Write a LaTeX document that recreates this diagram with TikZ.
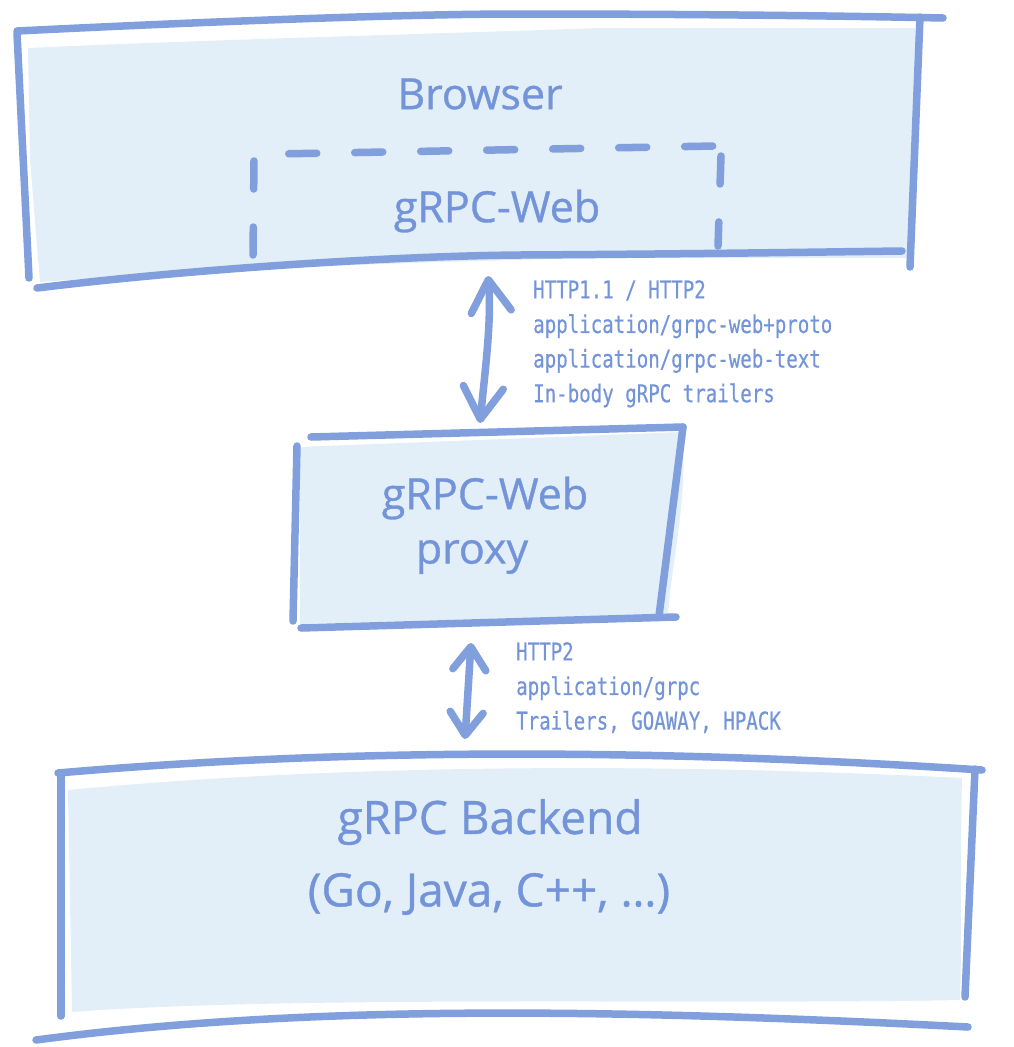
\documentclass[tikz,border=0pt]{standalone}
\usepackage{fontspec}
\setmainfont{Open Sans}[FakeBold=0.8]
\newfontfamily\lblfont[FakeStretch=0.78,FakeBold=0.5]{DejaVu Sans Mono}
\usetikzlibrary{arrows.meta}
\definecolor{strokeblue}{HTML}{809FDC}
\definecolor{fillblue}{HTML}{E2EEF8}
\definecolor{textblue}{HTML}{7394D8}
\tikzset{
  edge/.style={draw=strokeblue, line width=7.5pt, line cap=round, line join=round},
  dashedge/.style={draw=strokeblue, line width=7.5pt, line cap=round, dash pattern=on 28pt off 38pt},
  boxfill/.style={fill=fillblue, draw=none},
  bigtext/.style={text=textblue, font=\fontsize{43}{50}\selectfont, inner sep=0pt},
  lbltext/.style={text=textblue, font=\lblfont\fontsize{24.5}{34.6}\selectfont, anchor=north west, align=left, inner sep=0pt},
  dblarrow/.style={draw=strokeblue, line width=7.5pt, line cap=round,
     {Straight Barb[length=32pt,width=40pt,round]}-{Straight Barb[length=32pt,width=40pt,round]}},
  dblarrowsmall/.style={draw=strokeblue, line width=7.5pt, line cap=round,
     {Straight Barb[length=23pt,width=33pt,round]}-{Straight Barb[length=23pt,width=33pt,round]}}
}
\begin{document}
\begin{tikzpicture}[x=1pt,y=-1pt]
\useasboundingbox (0,0) rectangle (1013,1047);
% ---------- Browser box ----------
\fill[boxfill] (28,48) .. controls (200,40) and (400,35) .. (600,28) -- (915,28)
   .. controls (925,120) and (912,200) .. (912,258) -- (600,258)
   .. controls (400,262) and (200,270) .. (40,282) -- (30,160) -- cycle;
\draw[edge] (17,31) .. controls (200,22) and (400,14) .. (520,14) .. controls (700,14) and (850,16) .. (943,18);
\draw[edge] (17,33) -- (29,278);
\draw[edge] (37,288) .. controls (200,268) and (400,256) .. (520,255) .. controls (700,254) and (820,252) .. (902,251);
\draw[edge] (920,17) -- (910,267);
\draw[dashedge] (253,255) -- (254,160) .. controls (256,155) and (259,154) .. (275,154) -- (715,146);
\draw[dashedge] (721,156) -- (718,246);
\node[bigtext] (browser) at (480,94) {Browser};
\node[bigtext] (grpcweb) at (497,211) {gRPC-Web};
% ---------- Proxy box ----------
\fill[boxfill] (300,447) -- (682,432) .. controls (688,500) and (672,560) .. (668,614) -- (300,624) -- cycle;
\draw[edge] (311,437) -- (683,427);
\draw[edge] (297,446) -- (293,621);
\draw[edge] (683,427) -- (659,616);
\draw[edge] (301,628) -- (676,617);
\node[bigtext] (proxy1) at (485,498) {gRPC-Web};
\node[bigtext] (proxy2) at (472,557) {proxy};
% ---------- Backend box ----------
\fill[boxfill] (68,790) .. controls (300,768) and (600,760) .. (962,778)
   .. controls (960,850) and (962,950) .. (960,1000)
   .. controls (700,1005) and (300,995) .. (72,1012) -- cycle;
\draw[edge] (58,773) .. controls (300,752) and (600,745) .. (982,770);
\draw[edge] (61,776) -- (61,1016);
\draw[edge] (975,769) -- (965,997);
\draw[edge] (36,1040) .. controls (300,1005) and (600,1008) .. (968,1027);
\node[bigtext, font=\fontsize{46}{52}\selectfont] (backend) at (490,822) {gRPC Backend};
\node[bigtext, font=\fontsize{46}{52}\selectfont] (langs) at (489,894) {(Go, Java, C++, \dots)};
% ---------- Connectors ----------
\coordinate (a1top) at (488,276);
\coordinate (a1bot) at (480,423);
\coordinate (a2top) at (471,643);
\coordinate (a2bot) at (465,739);
\draw[dblarrow] (a1top) .. controls (492,320) and (484,380) .. (a1bot);
\draw[dblarrowsmall] (a2top) -- (a2bot);
\node[lbltext] (lbl1) at (533,280) {HTTP1.1 / HTTP2\\application/grpc-web+proto\\application/grpc-web-text\\In-body gRPC trailers};
\node[lbltext] (lbl2) at (516,642) {HTTP2\\application/grpc\\Trailers, GOAWAY, HPACK};
\end{tikzpicture}
\end{document}
